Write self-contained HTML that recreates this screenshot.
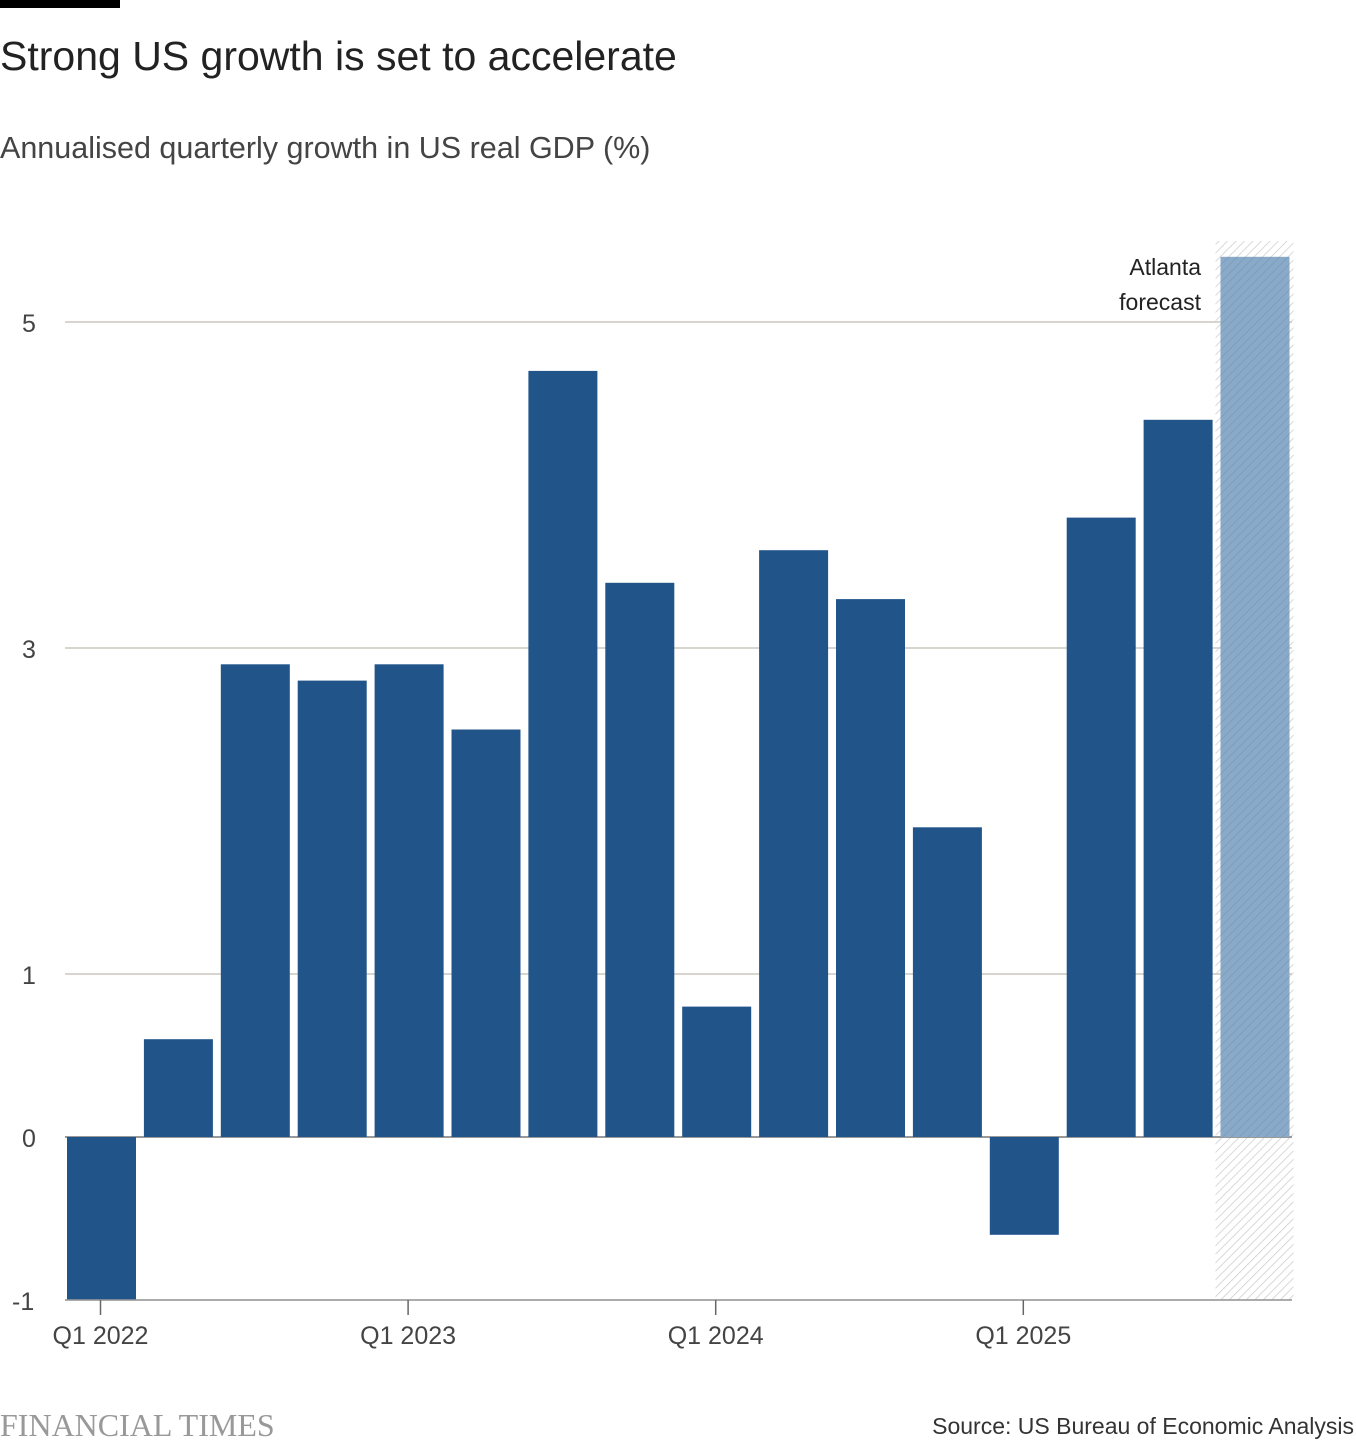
<!DOCTYPE html>
<html><head><meta charset="utf-8">
<style>
body{margin:0;background:#fff;width:1356px;height:1444px;overflow:hidden;font-family:"Liberation Sans",sans-serif;}
</style></head>
<body>
<svg width="1356" height="1444" xmlns="http://www.w3.org/2000/svg">
<defs>
<pattern id="hatch" width="6" height="6" patternUnits="userSpaceOnUse" patternTransform="rotate(45)">
<rect width="6" height="6" fill="#fff"/><line x1="0" y1="0" x2="0" y2="6" stroke="#ccc" stroke-width="1.5"/>
</pattern>
<pattern id="hatch2" width="6" height="6" patternUnits="userSpaceOnUse" patternTransform="rotate(45)">
<rect width="6" height="6" fill="#8aaac8"/><line x1="0" y1="0" x2="0" y2="6" stroke="#7a9ec2" stroke-width="2"/>
</pattern>
</defs>
<rect x="0" y="0" width="120" height="8" fill="#000"/>
<text x="0" y="70" font-size="41" fill="#222">Strong US growth is set to accelerate</text>
<text x="0" y="158" font-size="30.5" fill="#444">Annualised quarterly growth in US real GDP (%)</text>
<g id="grid"></g>
<g id="bars"></g>
<g id="xaxis"></g>
<text x="1201" y="275" font-size="23" fill="#222" text-anchor="end">Atlanta</text>
<text x="1201" y="310" font-size="23" fill="#222" text-anchor="end">forecast</text>
<text x="0" y="1436" font-size="32" fill="#999" font-family="Liberation Serif,serif">FINANCIAL TIMES</text>
<text x="1354" y="1434" font-size="23" fill="#333" text-anchor="end">Source: US Bureau of Economic Analysis</text>
</svg>
<script>
const categories=["Q1 2022","Q2 2022","Q3 2022","Q4 2022","Q1 2023","Q2 2023","Q3 2023","Q4 2023","Q1 2024","Q2 2024","Q3 2024","Q4 2024","Q1 2025","Q2 2025","Q3 2025","Forecast"];
const values=[-1.0,0.6,2.9,2.8,2.9,2.5,4.7,3.4,0.8,3.6,3.3,1.9,-0.6,3.8,4.4,5.4];
const yTicks=[-1,0,1,3,5];
const xTickLabels=["Q1 2022","Q1 2023","Q1 2024","Q1 2025"];
const NS="http://www.w3.org/2000/svg";
const y=v=>1137-v*163;
const step=76.9,x0=67,bw=69;
const x=i=>x0+i*step;
function mk(t,a,p){const e=document.createElementNS(NS,t);for(const k in a)e.setAttribute(k,a[k]);p.appendChild(e);return e;}
const grid=document.getElementById('grid'),bars=document.getElementById('bars'),xa=document.getElementById('xaxis');
const fi=values.length-1;
const band=mk('rect',{x:x(fi)-5,y:241,width:bw+9,height:y(-1)-241,fill:'url(#hatch)'},grid);


yTicks.forEach(t=>{
 const l=mk('line',{x1:65,x2:1292,y1:y(t),y2:y(t),stroke:t===0?'#999':'#ccc5bd','stroke-width':t===0?2:1.5},grid);
 
 
 const tx=mk('text',{x:t<0?12:22,y:y(t)+10,'font-size':25,fill:'#444'},grid);
 tx.textContent=t;
 
 
});
values.forEach((v,i)=>{
 const top=Math.min(y(v),y(0)),h=Math.abs(y(v)-y(0));
 const r=mk('rect',{x:x(i),y:top,width:bw,height:h,fill:i===fi?'url(#hatch2)':'#21558a'},bars);
 
 
});
const ax=mk('line',{x1:65,x2:1292,y1:1300,y2:1300,stroke:'#999','stroke-width':1.5},xa);


xTickLabels.forEach(lbl=>{
 const i=categories.indexOf(lbl);const cx=x(i)+bw/2-1;
 const tk=mk('line',{x1:cx,x2:cx,y1:1300,y2:1315,stroke:'#666','stroke-width':1.5},xa);
 
 
 const t=mk('text',{x:cx,y:1344,'font-size':25,fill:'#444','text-anchor':'middle'},xa);
 t.textContent=lbl;
 
 
});
</script>
</body></html>
